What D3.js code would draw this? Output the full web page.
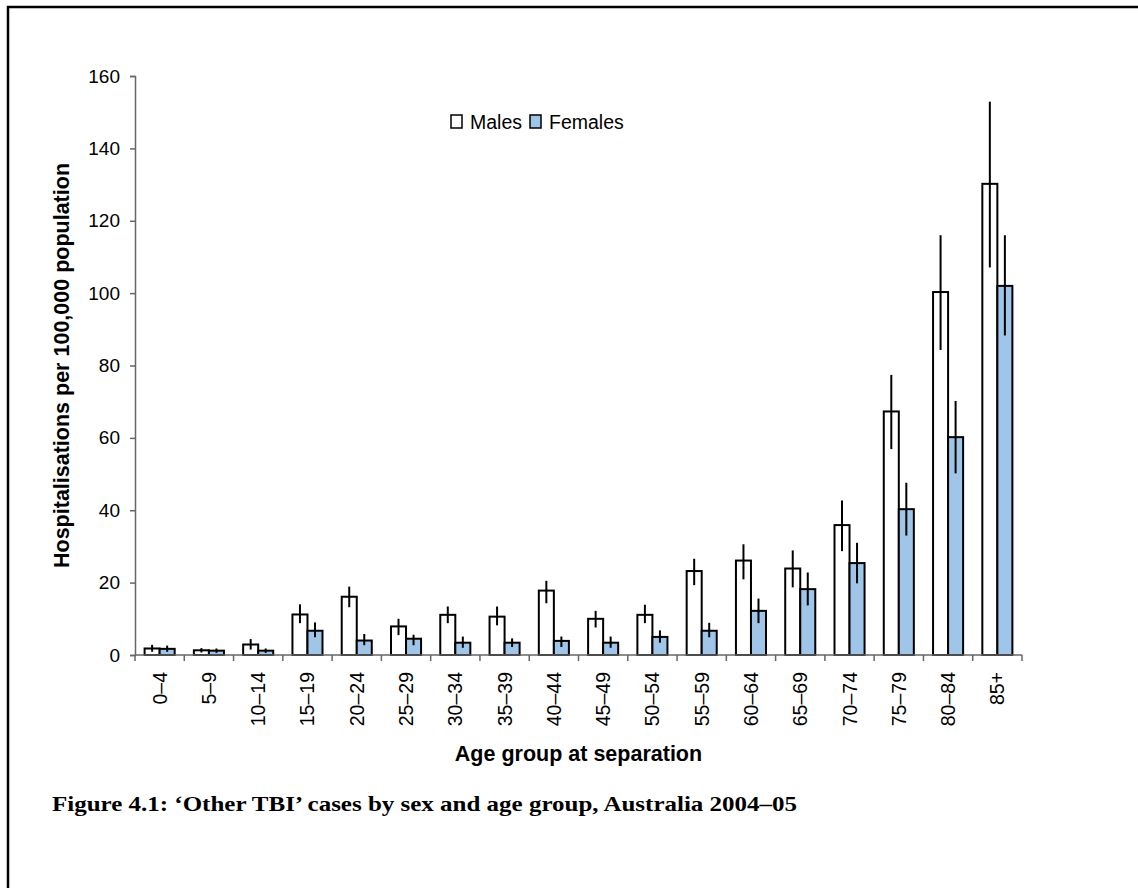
<!DOCTYPE html>
<html>
<head>
<meta charset="utf-8">
<script src="https://cdn.jsdelivr.net/npm/d3@7"></script>
<style>
  body { margin: 0; background: #fff; }
  svg { display: block; }
</style>
</head>
<body>
<div id="chart"></div>
<script>
// Chart data
var ageGroups = ['0–4', '5–9', '10–14', '15–19', '20–24', '25–29', '30–34', '35–39',
  '40–44', '45–49', '50–54', '55–59', '60–64', '65–69', '70–74', '75–79', '80–84', '85+'];
var series = ['Males', 'Females'];
var males = [1.8, 1.3, 2.9, 11.2, 16.1, 7.9, 11.1, 10.6, 17.8, 10.0, 11.1, 23.2, 26.1, 23.9, 35.9, 67.3, 100.3, 130.2];
var malesLower = [0.9, 0.7, 1.5, 8.8, 13.2, 5.5, 8.8, 8.2, 14.3, 7.6, 8.8, 19.3, 20.9, 18.7, 28.7, 56.9, 84.3, 107.1];
var malesUpper = [2.8, 1.9, 4.4, 14.0, 18.9, 10.0, 13.4, 13.4, 20.5, 12.2, 13.9, 26.6, 30.6, 28.9, 42.7, 77.4, 116.0, 152.9];
var females = [1.7, 1.2, 1.2, 6.7, 4.0, 4.5, 3.4, 3.4, 3.9, 3.4, 5.0, 6.7, 12.2, 18.2, 25.4, 40.3, 60.2, 102.0];
var femalesLower = [0.9, 0.6, 0.6, 4.9, 2.7, 2.7, 2.0, 2.2, 2.2, 2.0, 3.4, 4.9, 8.8, 13.7, 19.8, 33.0, 50.2, 88.3];
var femalesUpper = [2.6, 1.8, 1.8, 9.0, 5.8, 5.6, 5.1, 4.6, 5.1, 5.1, 6.8, 8.9, 15.6, 22.8, 31.0, 47.6, 70.2, 116.0];
var yTicks = [0, 20, 40, 60, 80, 100, 120, 140, 160];

var width = 1138;
var height = 888;
var margin = { top: 76, right: 116, bottom: 233, left: 135 };
var innerWidth = width - margin.left - margin.right;
var innerHeight = height - margin.top - margin.bottom;
var colors = { Males: '#ffffff', Females: '#9fc5e8' };
var sans = 'Liberation Sans, Arial, sans-serif';

// Flatten into rows for binding
var rows = [];
ageGroups.forEach(function (g, i) {
  rows.push({ group: g, key: 'Males', value: males[i], lo: malesLower[i], hi: malesUpper[i] });
  rows.push({ group: g, key: 'Females', value: females[i], lo: femalesLower[i], hi: femalesUpper[i] });
});

var svg = d3.select('#chart')
  .append('svg')
  .attr('width', width)
  .attr('height', height);

// Frame (left and top rules)
svg.append('path')
  .attr('d', 'M8,888V7H1138')
  .attr('fill', 'none')
  .attr('stroke', '#000')
  .attr('stroke-width', 2.5);

var g = svg.append('g')
  .attr('transform', 'translate(' + margin.left + ',' + margin.top + ')');

// Scales
var x0 = d3.scaleBand()
  .domain(ageGroups)
  .range([0, innerWidth])
  .paddingInner(0.39)
  .paddingOuter(0.195);
var x1 = d3.scaleBand()
  .domain(series)
  .range([0, x0.bandwidth()]);
var y = d3.scaleLinear()
  .domain([0, 160])
  .range([innerHeight, 0]);

// Bars
g.selectAll('.bar')
  .data(rows)
  .enter()
  .append('rect')
  .attr('class', 'bar')
  .attr('x', function (d) { return x0(d.group) + x1(d.key); })
  .attr('y', function (d) { return y(d.value); })
  .attr('width', x1.bandwidth())
  .attr('height', function (d) { return y(0) - y(d.value); })
  .attr('fill', function (d) { return colors[d.key]; })
  .attr('stroke', '#000')
  .attr('stroke-width', 2);

// Error bars
g.selectAll('.err')
  .data(rows)
  .enter()
  .append('line')
  .attr('class', 'err')
  .attr('x1', function (d) { return x0(d.group) + x1(d.key) + x1.bandwidth() / 2; })
  .attr('x2', function (d) { return x0(d.group) + x1(d.key) + x1.bandwidth() / 2; })
  .attr('y1', function (d) { return y(d.lo); })
  .attr('y2', function (d) { return y(d.hi); })
  .attr('stroke', '#000')
  .attr('stroke-width', 2);

// Y axis
var yAxis = g.append('g')
  .call(d3.axisLeft(y).tickValues(yTicks).tickSize(5).tickPadding(10));
yAxis.select('.domain').attr('stroke', '#666').attr('stroke-width', 1.5);
yAxis.selectAll('.tick line').attr('stroke', '#666').attr('stroke-width', 1.5);
yAxis.selectAll('.tick text')
  .attr('font-family', sans)
  .attr('font-size', 19)
  .attr('fill', '#000');

// X axis: ticks sit on the category boundaries
var boundaries = ageGroups.map(function (d) { return x0(d) - x0.step() * x0.paddingOuter(); });
boundaries.push(innerWidth);
var xAxis = g.append('g')
  .attr('transform', 'translate(0,' + innerHeight + ')');
xAxis.append('line')
  .attr('x1', 0)
  .attr('x2', innerWidth)
  .attr('stroke', '#666')
  .attr('stroke-width', 1.5);
xAxis.selectAll('.xtick')
  .data(boundaries)
  .enter()
  .append('line')
  .attr('class', 'xtick')
  .attr('x1', function (d) { return d; })
  .attr('x2', function (d) { return d; })
  .attr('y1', 0)
  .attr('y2', 6)
  .attr('stroke', '#666')
  .attr('stroke-width', 1.5);
xAxis.selectAll('.xlabel')
  .data(ageGroups)
  .enter()
  .append('text')
  .attr('class', 'xlabel')
  .attr('transform', function (d) {
    return 'translate(' + (x0(d) + x0.bandwidth() / 2 + 7) + ',17) rotate(-90)';
  })
  .attr('text-anchor', 'end')
  .attr('font-family', sans)
  .attr('font-size', 19.5)
  .text(function (d) { return d; });

// Axis titles
g.append('text')
  .attr('x', innerWidth / 2)
  .attr('y', innerHeight + 106)
  .attr('text-anchor', 'middle')
  .attr('font-family', sans)
  .attr('font-size', 21.5)
  .attr('font-weight', 'bold')
  .text('Age group at separation');
g.append('text')
  .attr('transform', 'translate(-66,' + innerHeight / 2 + ') rotate(-90)')
  .attr('text-anchor', 'middle')
  .attr('font-family', sans)
  .attr('font-size', 21.5)
  .attr('font-weight', 'bold')
  .text('Hospitalisations per 100,000 population');

// Legend
var legend = svg.append('g')
  .attr('transform', 'translate(451,115)');
var item = legend.selectAll('.item')
  .data(series)
  .enter()
  .append('g')
  .attr('class', 'item')
  .attr('transform', function (d, i) { return 'translate(' + (i * 79) + ',0)'; });
item.append('rect')
  .attr('width', 11)
  .attr('height', 13)
  .attr('fill', function (d) { return colors[d]; })
  .attr('stroke', '#000')
  .attr('stroke-width', 1.5);
item.append('text')
  .attr('x', 19)
  .attr('y', 14)
  .attr('font-family', sans)
  .attr('font-size', 19.5)
  .text(function (d) { return d; });

// Caption
svg.append('text')
  .attr('x', 52)
  .attr('y', 811)
  .attr('font-family', 'Liberation Serif, Times New Roman, serif')
  .attr('font-size', 22)
  .attr('font-weight', 'bold')
  .attr('textLength', 745)
  .attr('lengthAdjust', 'spacingAndGlyphs')
  .text('Figure 4.1: ‘Other TBI’ cases by sex and age group, Australia 2004–05');
</script>
</body>
</html>
